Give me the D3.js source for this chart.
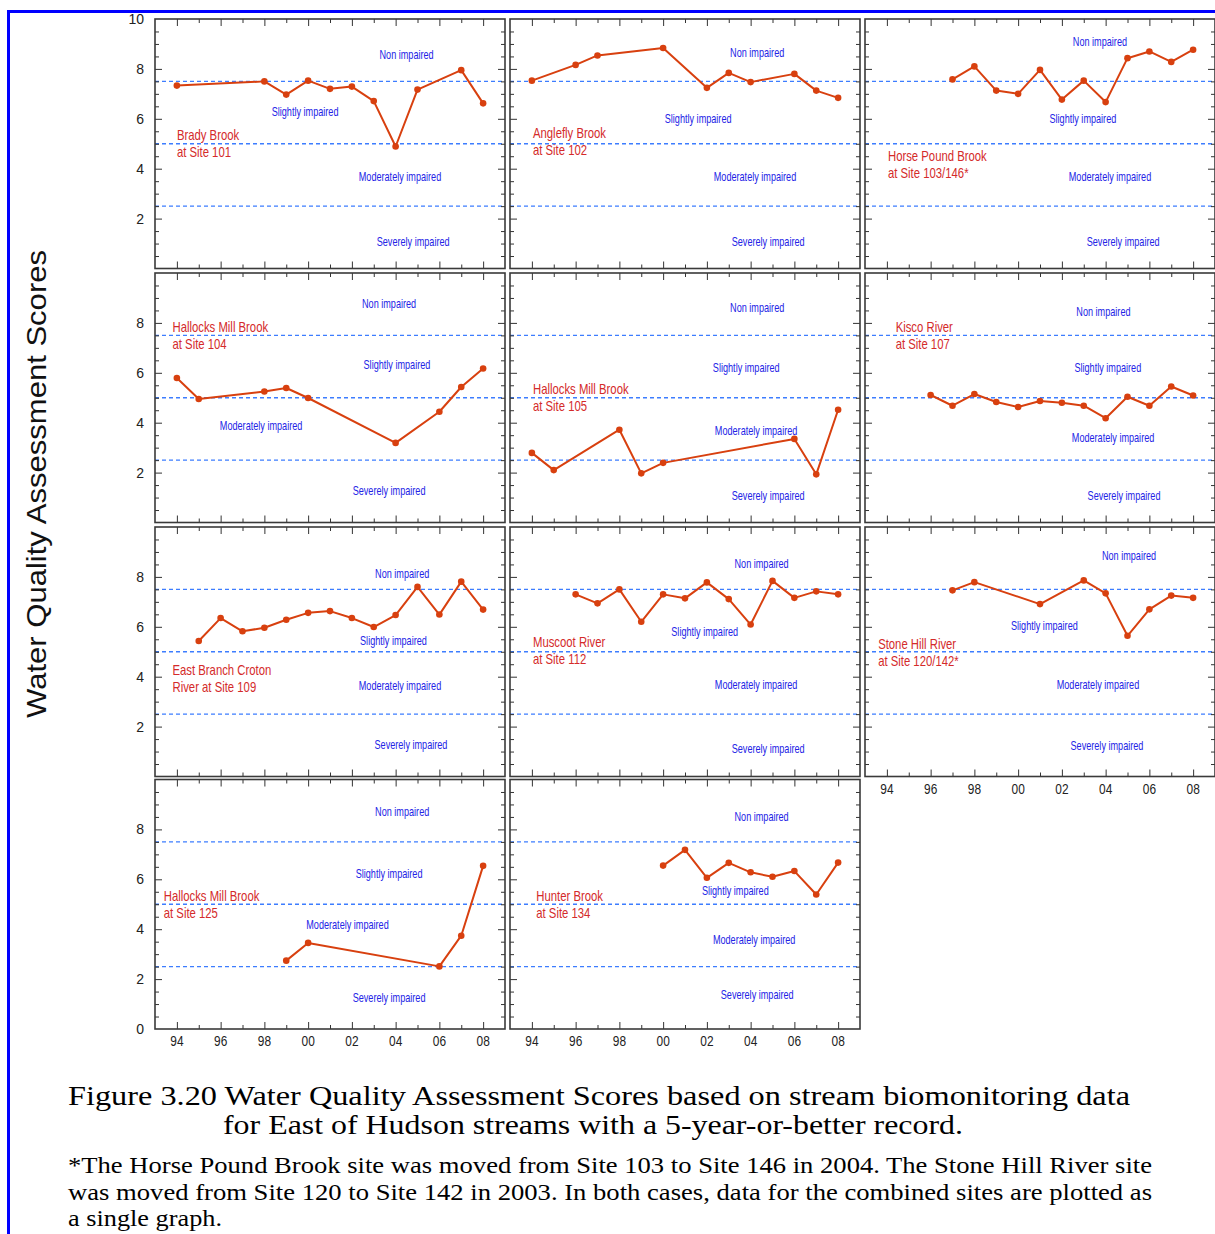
<!DOCTYPE html>
<html><head><meta charset="utf-8">
<script src="https://cdn.jsdelivr.net/npm/d3@7"></script>
<style>body{margin:0;background:#fff} svg{display:block}</style>
</head><body>
<svg id="chart" width="1215" height="1234"></svg>
<script>
// ---------------- DATA ----------------
const siteLabels = [
  ["Brady Brook", "at Site 101"],
  ["Anglefly Brook", "at Site 102"],
  ["Horse Pound Brook", "at Site 103/146*"],
  ["Hallocks Mill Brook", "at Site 104"],
  ["Hallocks Mill Brook", "at Site 105"],
  ["Kisco River", "at Site 107"],
  ["East Branch Croton", "River at Site 109"],
  ["Muscoot River", "at Site 112"],
  ["Stone Hill River", "at Site 120/142*"],
  ["Hallocks Mill Brook", "at Site 125"],
  ["Hunter Brook", "at Site 134"]
];
const bradyYears = [1994, 1998, 1999, 2000, 2001, 2002, 2003, 2004, 2005, 2007, 2008];
const bradyScores = [7.33, 7.50, 6.97, 7.53, 7.20, 7.29, 6.71, 4.89, 7.17, 7.95, 6.62];
const angleflyYears = [1994, 1996, 1997, 2000, 2002, 2003, 2004, 2006, 2007, 2008];
const angleflyScores = [7.53, 8.16, 8.54, 8.84, 7.24, 7.84, 7.47, 7.80, 7.13, 6.84];
const horsePoundYears = [1997, 1998, 1999, 2000, 2001, 2002, 2003, 2004, 2005, 2006, 2007, 2008];
const horsePoundScores = [7.58, 8.10, 7.13, 7.00, 7.96, 6.77, 7.53, 6.67, 8.43, 8.70, 8.28, 8.77];
const hallocks104Years = [1994, 1995, 1998, 1999, 2000, 2004, 2006, 2007, 2008];
const hallocks104Scores = [5.79, 4.95, 5.25, 5.39, 4.99, 3.19, 4.44, 5.43, 6.17];
const hallocks105Years = [1994, 1995, 1998, 1999, 2000, 2006, 2007, 2008];
const hallocks105Scores = [2.79, 2.10, 3.72, 1.97, 2.39, 3.35, 1.93, 4.52];
const kiscoYears = [1996, 1997, 1998, 1999, 2000, 2001, 2002, 2003, 2004, 2005, 2006, 2007, 2008];
const kiscoScores = [5.11, 4.68, 5.15, 4.83, 4.63, 4.87, 4.80, 4.68, 4.18, 5.04, 4.68, 5.45, 5.09];
const crotonYears = [1995, 1996, 1997, 1998, 1999, 2000, 2001, 2002, 2003, 2004, 2005, 2006, 2007, 2008];
const crotonScores = [5.43, 6.35, 5.82, 5.96, 6.28, 6.56, 6.63, 6.35, 5.99, 6.47, 7.60, 6.49, 7.81, 6.69];
const muscootYears = [1996, 1997, 1998, 1999, 2000, 2001, 2002, 2003, 2004, 2005, 2006, 2007, 2008];
const muscootScores = [7.30, 6.94, 7.50, 6.20, 7.30, 7.14, 7.78, 7.11, 6.09, 7.84, 7.16, 7.42, 7.30];
const stoneHillYears = [1997, 1998, 2001, 2003, 2004, 2005, 2006, 2007, 2008];
const stoneHillScores = [7.46, 7.79, 6.91, 7.86, 7.34, 5.64, 6.70, 7.25, 7.16];
const hallocks125Years = [1999, 2000, 2006, 2007, 2008];
const hallocks125Scores = [2.74, 3.45, 2.51, 3.74, 6.54];
const hunterYears = [2000, 2001, 2002, 2003, 2004, 2005, 2006, 2007, 2008];
const hunterScores = [6.55, 7.18, 6.06, 6.66, 6.28, 6.10, 6.33, 5.39, 6.67];

const zoneNames = ["Non impaired", "Slightly impaired", "Moderately impaired", "Severely impaired"];
const thresholds = [7.5, 5, 2.5];
const yTickValues = [0, 2, 4, 6, 8, 10];
const xTickYears = [1994, 1996, 1998, 2000, 2002, 2004, 2006, 2008];
const xTickLabels = ["94", "96", "98", "00", "02", "04", "06", "08"];
const yTitle = "Water Quality Assessment Scores";
const captionLines = [
  "Figure 3.20  Water Quality Assessment Scores based on stream biomonitoring data",
  "for East of Hudson streams with a 5-year-or-better record."
];
const footnoteLines = [
  "*The Horse Pound Brook site was moved from Site 103 to Site 146 in 2004. The Stone Hill River site",
  "was moved from Site 120 to Site 142 in 2003. In both cases, data for the combined sites are plotted as",
  "a single graph."
];

const seriesYears = [bradyYears, angleflyYears, horsePoundYears, hallocks104Years, hallocks105Years,
  kiscoYears, crotonYears, muscootYears, stoneHillYears, hallocks125Years, hunterYears];
const seriesScores = [bradyScores, angleflyScores, horsePoundScores, hallocks104Scores, hallocks105Scores,
  kiscoScores, crotonScores, muscootScores, stoneHillScores, hallocks125Scores, hunterScores];

// ---------------- LAYOUT (annotation anchors in data units) ----------------
const zoneLabelPos = [
  [[2004.5, 8.57], [1999.86, 6.29], [2004.2, 3.67], [2004.8, 1.10]],
  [[2004.3, 8.65], [2001.6, 6.03], [2004.2, 3.67], [2004.8, 1.10]],
  [[2003.74, 9.09], [2002.96, 6.0], [2004.2, 3.67], [2004.8, 1.10]],
  [[2003.7, 8.76], [2004.06, 6.35], [1997.85, 3.88], [2003.7, 1.27]],
  [[2004.3, 8.61], [2003.8, 6.2], [2004.25, 3.67], [2004.8, 1.1]],
  [[2003.9, 8.45], [2004.1, 6.2], [2004.34, 3.39], [2004.84, 1.1]],
  [[2004.3, 8.14], [2003.9, 5.45], [2004.2, 3.65], [2004.7, 1.28]],
  [[2004.5, 8.55], [2001.9, 5.82], [2004.25, 3.69], [2004.8, 1.12]],
  [[2005.07, 8.87], [2001.2, 6.06], [2003.65, 3.69], [2004.06, 1.24]],
  [[2004.3, 8.70], [2003.7, 6.25], [2001.8, 4.2], [2003.7, 1.27]],
  [[2004.5, 8.53], [2003.3, 5.56], [2004.16, 3.6], [2004.3, 1.38]]
];
const siteLabelPos = [
  [1994.0, 5.35], [1994.05, 5.43], [1994.05, 4.51], [1993.8, 7.84], [1994.05, 5.35], [1994.4, 7.84],
  [1993.8, 4.27], [1994.05, 5.39], [1993.6, 5.31], [1993.4, 5.33], [1994.2, 5.33]
];

const colX = [155, 510, 865];
const rowY = [19, 273, 527, 779.5];
const PW = 350, PH = 249.5;

const svg = d3.select("#chart");
const font = "'Liberation Sans', Arial, sans-serif";

// blue page border
svg.append("line").attr("x1", 8.5).attr("x2", 1215).attr("y1", 11.5).attr("y2", 11.5)
  .attr("stroke", "#0000ff").attr("stroke-width", 3);
svg.append("line").attr("x1", 8.5).attr("x2", 8.5).attr("y1", 10).attr("y2", 1234)
  .attr("stroke", "#0000ff").attr("stroke-width", 3);

const x = d3.scaleLinear().domain([1993, 2009]).range([0, PW]);
const y = d3.scaleLinear().domain([0, 10]).range([PH, 0]);
const allYears = d3.range(1994, 2009);
const evenYears = allYears.filter(d => d % 2 === 0);
const oddYears = allYears.filter(d => d % 2 === 1);
const minorY = d3.range(0.5, 10, 0.5).filter(d => d % 2 !== 0);
const majorY = [2, 4, 6, 8];

function styleAxis(g) {
  g.select(".domain").remove();
  g.selectAll(".tick line").attr("stroke", "#333").attr("stroke-width", 1);
  g.selectAll(".tick text").remove();
}

seriesYears.forEach((yrs, i) => {
  const col = i % 3, row = Math.floor(i / 3);
  const g = svg.append("g").attr("transform", `translate(${colX[col]},${rowY[row]})`);

  // thresholds
  g.selectAll("line.thr").data(thresholds).join("line").attr("class", "thr")
    .attr("x1", 0).attr("x2", PW).attr("y1", d => y(d)).attr("y2", d => y(d))
    .attr("stroke", "#3d7dff").attr("stroke-width", 1.4).attr("stroke-dasharray", "4,3");

  // ticks via axes
  g.append("g").call(d3.axisLeft(y).tickValues(majorY).tickSize(-7)).call(styleAxis);
  g.append("g").call(d3.axisLeft(y).tickValues(minorY).tickSize(-4)).call(styleAxis);
  g.append("g").attr("transform", `translate(${PW},0)`).call(d3.axisRight(y).tickValues(majorY).tickSize(-7)).call(styleAxis);
  g.append("g").attr("transform", `translate(${PW},0)`).call(d3.axisRight(y).tickValues(minorY).tickSize(-4)).call(styleAxis);
  g.append("g").call(d3.axisTop(x).tickValues(evenYears).tickSize(-7)).call(styleAxis);
  g.append("g").call(d3.axisTop(x).tickValues(oddYears).tickSize(-4)).call(styleAxis);
  g.append("g").attr("transform", `translate(0,${PH})`).call(d3.axisBottom(x).tickValues(evenYears).tickSize(-7)).call(styleAxis);
  g.append("g").attr("transform", `translate(0,${PH})`).call(d3.axisBottom(x).tickValues(oddYears).tickSize(-4)).call(styleAxis);

  // frame
  g.append("rect").attr("x", 0).attr("y", 0).attr("width", PW).attr("height", PH)
    .attr("fill", "none").attr("stroke", "#3a3a3a").attr("stroke-width", 1.6);

  // zone labels
  zoneNames.forEach((z, k) => {
    const p = zoneLabelPos[i][k];
    g.append("text").attr("transform", `translate(${x(p[0])},${y(p[1])}) scale(0.76,1)`)
      .attr("text-anchor", "middle").attr("dominant-baseline", "central")
      .attr("font-family", font).attr("font-size", 12).attr("fill", "#2323e6").text(z);
  });

  // site labels
  const sp = siteLabelPos[i];
  siteLabels[i].forEach((t, k) => {
    g.append("text").attr("transform", `translate(${x(sp[0])},${y(sp[1]) + k * 17}) scale(0.81,1)`)
      .attr("dominant-baseline", "central")
      .attr("font-family", font).attr("font-size", 14).attr("fill", "#d42a2a").text(t);
  });

  // series
  const pts = yrs.map((yr, k) => [yr, seriesScores[i][k]]);
  g.append("path").datum(pts)
    .attr("d", d3.line().x(d => x(d[0])).y(d => y(d[1])))
    .attr("fill", "none").attr("stroke", "#d8400f").attr("stroke-width", 2).attr("stroke-linejoin", "round");
  g.selectAll("circle").data(pts).join("circle")
    .attr("cx", d => x(d[0])).attr("cy", d => y(d[1])).attr("r", 3.3).attr("fill", "#d8400f");

  // y tick labels (first column)
  if (col === 0) {
    let vals = [2, 4, 6, 8];
    if (row === 0) vals = vals.concat([10]);
    if (row === 3) vals = [0].concat(vals);
    g.selectAll("text.yl").data(vals).join("text").attr("class", "yl")
      .attr("x", -11).attr("y", d => y(d)).attr("text-anchor", "end").attr("dominant-baseline", "central")
      .attr("font-family", font).attr("font-size", 14).attr("fill", "#222").text(d => d);
  }
  // x tick labels (bottom of each column)
  if (row === 3 || (row === 2 && col === 2)) {
    xTickYears.forEach((yr, k) => {
      g.append("text").attr("transform", `translate(${x(yr)},${PH + 12.5}) scale(0.85,1)`)
        .attr("text-anchor", "middle").attr("dominant-baseline", "central")
        .attr("font-family", font).attr("font-size", 14).attr("fill", "#222").text(xTickLabels[k]);
    });
  }
});

// y title
svg.append("text").attr("transform", "translate(36,484) rotate(-90)")
  .attr("text-anchor", "middle").attr("dominant-baseline", "central")
  .attr("font-family", font).attr("font-size", 28).attr("fill", "#111")
  .attr("textLength", 468).attr("lengthAdjust", "spacingAndGlyphs").text(yTitle);

// caption
const serif = "'Liberation Serif', 'Times New Roman', serif";
const capPos = [[68, 1105, 1062], [223, 1134, 740]];
captionLines.forEach((t, k) => {
  svg.append("text").attr("x", capPos[k][0]).attr("y", capPos[k][1])
    .attr("font-family", serif).attr("font-size", 27).attr("fill", "#000")
    .attr("textLength", capPos[k][2]).attr("lengthAdjust", "spacingAndGlyphs").text(t);
});
const fnPos = [[68, 1173, 1084], [68, 1200, 1084], [68, 1226, 154]];
footnoteLines.forEach((t, k) => {
  svg.append("text").attr("x", fnPos[k][0]).attr("y", fnPos[k][1])
    .attr("font-family", serif).attr("font-size", 22.5).attr("fill", "#000")
    .attr("textLength", fnPos[k][2]).attr("lengthAdjust", "spacingAndGlyphs").text(t);
});
</script>
</body></html>
